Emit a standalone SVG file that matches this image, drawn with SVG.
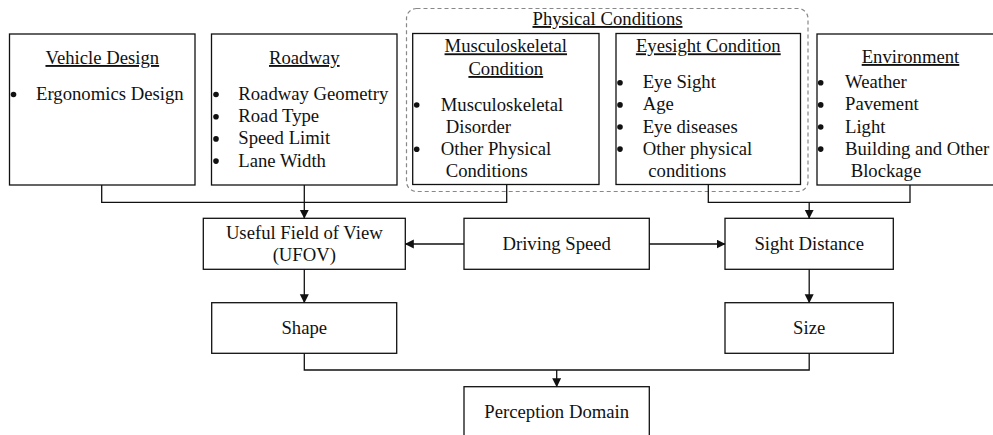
<svg xmlns="http://www.w3.org/2000/svg" width="993" height="435" viewBox="0 0 993 435">
<style>
  .box { fill: #fff; stroke: #111; stroke-width: 1.3; }
  .t { font-family: "Liberation Serif", "Times New Roman", serif; font-size: 18.7px; fill: #111; }
  .c { text-anchor: middle; }
  .u { text-decoration: underline; }
  .dot { fill: #111; }
  .ln { fill: none; stroke: #111; stroke-width: 1.3; }
  .dash { fill: none; stroke: #888; stroke-width: 1.2; stroke-dasharray: 4 3; }
</style>
<defs>
  <marker id="ah" markerWidth="10" markerHeight="10" refX="8.5" refY="4.5" orient="auto" markerUnits="userSpaceOnUse">
    <path d="M0,0 L9,4.5 L0,9 Z" fill="#111"/>
  </marker>
  <circle id="bul" r="2.8"/>
</defs>
<rect width="993" height="435" fill="#fff"/>

<g id="physical-conditions">
  <rect class="dash" x="406.5" y="8.5" width="401.5" height="183" rx="10" ry="10"/>
  <text class="t c u" x="607.5" y="25">Physical Conditions</text>
</g>

<g id="vehicle-design">
  <rect class="box" x="9.5" y="34" width="185.5" height="151"/>
  <text class="t c u" x="102.3" y="64">Vehicle Design</text>
  <use href="#bul" class="dot" x="13.5" y="94.5"/>
  <text class="t" x="36" y="100">Ergonomics Design</text>
</g>

<g id="roadway">
  <rect class="box" x="211.5" y="34" width="185.5" height="151"/>
  <text class="t c u" x="304.3" y="64">Roadway</text>
  <use href="#bul" class="dot" x="216" y="94.5"/>
  <text class="t" x="238.3" y="100">Roadway Geometry</text>
  <use href="#bul" class="dot" x="216" y="116.7"/>
  <text class="t" x="238.3" y="122.2">Road Type</text>
  <use href="#bul" class="dot" x="216" y="138.9"/>
  <text class="t" x="238.3" y="144.4">Speed Limit</text>
  <use href="#bul" class="dot" x="216" y="161.1"/>
  <text class="t" x="238.3" y="166.6">Lane Width</text>
</g>

<g id="musculoskeletal">
  <rect class="box" x="412.7" y="33.5" width="186.3" height="151"/>
  <text class="t c u" x="505.8" y="52.3">Musculoskeletal</text>
  <text class="t c u" x="505.8" y="75">Condition</text>
  <use href="#bul" class="dot" x="416.7" y="105"/>
  <text class="t" x="440.7" y="110.5">Musculoskeletal</text>
  <text class="t" x="445.7" y="132.6">Disorder</text>
  <use href="#bul" class="dot" x="416.7" y="149.2"/>
  <text class="t" x="440.7" y="154.7">Other Physical</text>
  <text class="t" x="445.7" y="176.8">Conditions</text>
</g>

<g id="eyesight">
  <rect class="box" x="616" y="33.5" width="184.5" height="151"/>
  <text class="t c u" x="708.3" y="52.3">Eyesight Condition</text>
  <use href="#bul" class="dot" x="620" y="82.8"/>
  <text class="t" x="642.7" y="88.3">Eye Sight</text>
  <use href="#bul" class="dot" x="620" y="104.9"/>
  <text class="t" x="642.7" y="110.4">Age</text>
  <use href="#bul" class="dot" x="620" y="127"/>
  <text class="t" x="642.7" y="132.5">Eye diseases</text>
  <use href="#bul" class="dot" x="620" y="149.1"/>
  <text class="t" x="642.7" y="154.6">Other physical</text>
  <text class="t" x="648.3" y="176.7">conditions</text>
</g>

<g id="environment">
  <rect class="box" x="817" y="34" width="190" height="151"/>
  <text class="t c u" x="910.5" y="63">Environment</text>
  <use href="#bul" class="dot" x="820.7" y="82.8"/>
  <text class="t" x="845" y="88.3">Weather</text>
  <use href="#bul" class="dot" x="820.7" y="104.9"/>
  <text class="t" x="845" y="110.4">Pavement</text>
  <use href="#bul" class="dot" x="820.7" y="127"/>
  <text class="t" x="845" y="132.5">Light</text>
  <use href="#bul" class="dot" x="820.7" y="149.1"/>
  <text class="t" x="845" y="154.6">Building and Other</text>
  <text class="t" x="850.7" y="176.7">Blockage</text>
</g>

<g id="ufov">
  <rect class="box" x="203.3" y="218.3" width="202" height="51"/>
  <text class="t c" x="304.3" y="239.3">Useful Field of View</text>
  <text class="t c" x="304.3" y="261">(UFOV)</text>
</g>

<g id="driving-speed">
  <rect class="box" x="464" y="218.3" width="185.3" height="51"/>
  <text class="t c" x="556.7" y="250">Driving Speed</text>
</g>

<g id="sight-distance">
  <rect class="box" x="725" y="218.3" width="168.3" height="51"/>
  <text class="t c" x="809.2" y="250">Sight Distance</text>
</g>

<g id="shape">
  <rect class="box" x="211.7" y="302.7" width="185" height="50.6"/>
  <text class="t c" x="304.3" y="334">Shape</text>
</g>

<g id="size">
  <rect class="box" x="725" y="302.7" width="168.3" height="50.6"/>
  <text class="t c" x="809.2" y="334">Size</text>
</g>

<g id="perception-domain">
  <rect class="box" x="464" y="386.7" width="185.3" height="60"/>
  <text class="t c" x="556.7" y="418">Perception Domain</text>
</g>

<g id="connectors">
  <polyline class="ln" points="101.7,185 101.7,202.3 506.7,202.3 506.7,184.5"/>
  <line class="ln" x1="304.3" y1="185" x2="304.3" y2="218.3" marker-end="url(#ah)"/>
  <polyline class="ln" points="708.3,184.5 708.3,202.3 910,202.3 910,185"/>
  <line class="ln" x1="809.2" y1="202.3" x2="809.2" y2="218.3" marker-end="url(#ah)"/>
  <line class="ln" x1="464" y1="244" x2="405.3" y2="244" marker-end="url(#ah)"/>
  <line class="ln" x1="649.3" y1="244" x2="725" y2="244" marker-end="url(#ah)"/>
  <line class="ln" x1="304.3" y1="269.3" x2="304.3" y2="302.7" marker-end="url(#ah)"/>
  <line class="ln" x1="809.2" y1="269.3" x2="809.2" y2="302.7" marker-end="url(#ah)"/>
  <polyline class="ln" points="304.3,353.3 304.3,370 809.2,370 809.2,353.3"/>
  <line class="ln" x1="556.7" y1="370" x2="556.7" y2="386.7" marker-end="url(#ah)"/>
</g>
</svg>
